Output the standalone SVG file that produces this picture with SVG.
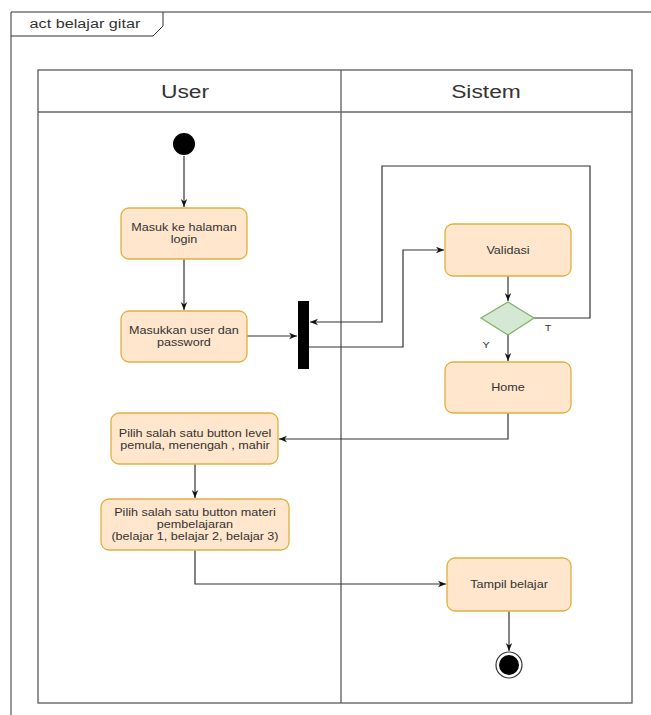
<svg xmlns="http://www.w3.org/2000/svg" width="651" height="715" viewBox="0 0 651 715">
<style>
.t{font-family:"Liberation Sans",Arial,sans-serif;fill:#333;text-anchor:middle}
.box{fill:#ffe6cc;stroke:#e0b040;stroke-width:1.3}
.ln{fill:none;stroke:#333;stroke-width:1.2}
.lane{fill:none;stroke:#666;stroke-width:1.4}
</style>
<defs>
<marker id="ah" viewBox="0 0 10 10" refX="10" refY="5" markerWidth="8" markerHeight="8" orient="auto" markerUnits="userSpaceOnUse">
<path d="M0,1 L10,5 L0,9 L3,5 Z" fill="#111"/>
</marker>
</defs>
<rect width="651" height="715" fill="#fff"/>
<g id="frame">
<path d="M11,715 V12 H651" fill="none" stroke="#333" stroke-width="1"/>
<path d="M11,36 H153 L163,26 V12" fill="none" stroke="#333" stroke-width="1"/>
<g transform="scale(1.2,1)"><text class="t" x="70.8" y="28" font-size="13.5">act belajar gitar</text></g>
</g>
<g id="swimlanes">
<rect class="lane" x="38" y="70" width="594" height="633"/>
<line class="lane" x1="38" y1="112" x2="632" y2="112"/>
<line class="lane" x1="341" y1="70" x2="341" y2="703"/>
<g transform="scale(1.2,1)">
<text class="t" x="154.2" y="98" font-size="19">User</text>
<text class="t" x="405" y="98" font-size="19">Sistem</text>
</g>
</g>
<g id="connectors">
<path class="ln" d="M184,156 V207" marker-end="url(#ah)"/>
<path class="ln" d="M184,259 V310" marker-end="url(#ah)"/>
<path class="ln" d="M247,336 H297" marker-end="url(#ah)"/>
<path class="ln" d="M309,347 H403 V250 H444" marker-end="url(#ah)"/>
<path class="ln" d="M533,318 H590 V166 H382 V322 H310" marker-end="url(#ah)"/>
<path class="ln" d="M508,276 V301" marker-end="url(#ah)"/>
<path class="ln" d="M508,335 V361" marker-end="url(#ah)"/>
<path class="ln" d="M508,413 V439 H279" marker-end="url(#ah)"/>
<path class="ln" d="M195,464 V498" marker-end="url(#ah)"/>
<path class="ln" d="M195,550 V584 H446" marker-end="url(#ah)"/>
<path class="ln" d="M509,611 V651" marker-end="url(#ah)"/>
<g transform="scale(1.2,1)">
<text class="t" x="456.7" y="331" font-size="9" fill="#555">T</text>
<text class="t" x="405" y="348" font-size="9" fill="#555">Y</text>
</g>
</g>
<g id="start"><circle cx="184" cy="144" r="11" fill="#000"/></g>
<g id="login">
<rect class="box" x="121" y="208" width="126" height="51" rx="8"/>
<g transform="scale(1.2,1)">
<text class="t" x="153.3" y="231" font-size="10.5">Masuk ke halaman</text>
<text class="t" x="153.3" y="243" font-size="10.5">login</text>
</g>
</g>
<g id="input">
<rect class="box" x="121" y="311" width="126" height="51" rx="8"/>
<g transform="scale(1.2,1)">
<text class="t" x="153.3" y="334" font-size="10.5">Masukkan user dan</text>
<text class="t" x="153.3" y="346" font-size="10.5">password</text>
</g>
</g>
<g id="fork"><rect x="298" y="301" width="11" height="68" fill="#000"/></g>
<g id="validasi">
<rect class="box" x="445" y="224" width="126" height="52" rx="8"/>
<g transform="scale(1.2,1)"><text class="t" x="423.3" y="254" font-size="10.5">Validasi</text></g>
</g>
<g id="decision"><polygon points="508,302 534,318 508,335 481,318" fill="#d5e8d4" stroke="#82b366" stroke-width="1.3"/></g>
<g id="home">
<rect class="box" x="445" y="362" width="126" height="51" rx="8"/>
<g transform="scale(1.2,1)"><text class="t" x="423.3" y="391" font-size="10.5">Home</text></g>
</g>
<g id="level">
<rect class="box" x="111" y="413" width="167" height="51" rx="8"/>
<g transform="scale(1.2,1)">
<text class="t" x="162.5" y="437" font-size="10.5">Pilih salah satu button level</text>
<text class="t" x="162.5" y="449" font-size="10.5">pemula, menengah , mahir</text>
</g>
</g>
<g id="materi">
<rect class="box" x="101" y="499" width="188" height="51" rx="8"/>
<g transform="scale(1.2,1)">
<text class="t" x="162.5" y="516" font-size="10.5">Pilih salah satu button materi</text>
<text class="t" x="162.5" y="528" font-size="10.5">pembelajaran</text>
<text class="t" x="162.5" y="540" font-size="10.5">(belajar 1, belajar 2, belajar 3)</text>
</g>
</g>
<g id="tampil">
<rect class="box" x="447" y="558" width="124" height="53" rx="8"/>
<g transform="scale(1.2,1)"><text class="t" x="424.2" y="588" font-size="10.5">Tampil belajar</text></g>
</g>
<g id="end">
<circle cx="509" cy="665" r="13" fill="#fff" stroke="#333" stroke-width="1.2"/>
<circle cx="509" cy="665" r="10" fill="#000"/>
</g>
</svg>
